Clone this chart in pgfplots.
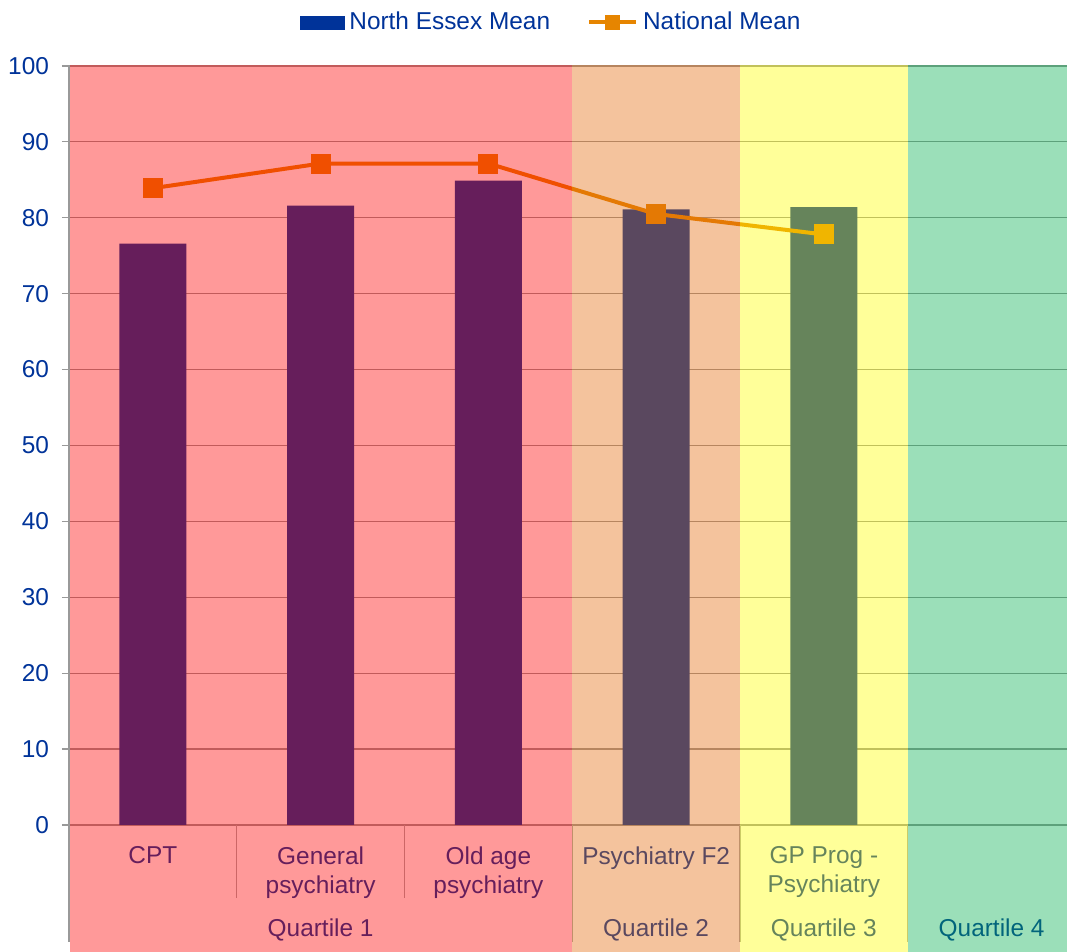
\documentclass[border=0pt]{standalone}
\usepackage{fontspec}
\setmainfont{Liberation Sans}
\usepackage{pgfplots}
\pgfplotsset{compat=1.18}
\definecolor{nblue}{HTML}{003399}
\definecolor{norange}{HTML}{E68500}
\definecolor{gridc}{HTML}{999999}
\definecolor{sepc}{HTML}{AAAAAA}
\definecolor{qa}{RGB}{255,0,0}
\definecolor{qb}{RGB}{227,105,10}
\definecolor{qc}{RGB}{255,255,0}
\definecolor{qd}{RGB}{5,175,80}
\newcommand{\lf}{\fontsize{12.2}{14.5}\selectfont}
\begin{document}
\begin{tikzpicture}
\useasboundingbox (-34.5pt,-63.5pt) rectangle (499pt,412.5pt);
\begin{axis}[
  at={(0,0)}, anchor=south west, scale only axis,
  width=499pt, height=379.5pt,
  xmin=-0.5, xmax=5.449, ymin=0, ymax=100,
  axis line style={draw=none},
  ytick={0,10,...,100}, ytick pos=left,
  xtick={0,1,2,3,4},
  xticklabels={CPT, General\\psychiatry, Old age\\psychiatry, Psychiatry F2, GP Prog -\\Psychiatry},
  xtick style={draw=none},
  xticklabel style={font=\lf, text=nblue, align=center, anchor=north, inner sep=0pt, yshift=-7.2pt},
  ymajorgrids, grid style={gridc, line width=0.6pt},
  ytick style={gridc, line width=0.6pt},
  tick align=outside, major tick length=3.5pt,
  yticklabel style={font=\lf, text=nblue, /pgf/number format/assume math mode=true, xshift=-3pt},
  legend style={at={(0.482,1.0573)}, anchor=center, draw=none, fill=none, font=\lf, text=nblue,
    nodes={inner sep=0pt},
    /tikz/every odd column/.append style={column sep=2.5pt},
    /tikz/every even column/.append style={column sep=18.5pt}},
  legend columns=2,
]
\addplot[ybar, bar width=0.4, fill=nblue, draw=none, forget plot]
  coordinates {(0,76.6) (1,81.6) (2,84.9) (3,81.1) (4,81.4)};
\addplot[norange, line width=2pt, mark=square*, mark size=4pt, mark options={solid}, forget plot]
  coordinates {(0,83.9) (1,87.15) (2,87.15) (3,80.5) (4,77.8)};
\addlegendimage{legend image code/.code={\fill[nblue] (0pt,-3.25pt) rectangle (22pt,3.25pt);}}
\addlegendentry{North Essex Mean}
\addlegendimage{legend image code/.code={\draw[norange, line width=2pt] (0pt,0pt) -- (23.5pt,0pt); \fill[norange] (8.25pt,-3.5pt) rectangle (15.25pt,3.5pt);}}
\addlegendentry{National Mean}
\end{axis}
% quartile labels
\begin{scope}[every node/.style={font=\lf, text=nblue, anchor=base, inner sep=0pt}]
\node at (125.81pt,-56pt) {Quartile 1};
\node at (293.56pt,-56pt) {Quartile 2};
\node at (377.44pt,-56pt) {Quartile 3};
\node at (461.31pt,-56pt) {Quartile 4};
\end{scope}
% separators
\begin{scope}[sepc, line width=0.6pt]
\draw (83.875pt,0pt) -- (83.875pt,-36.5pt);
\draw (167.75pt,0pt) -- (167.75pt,-36.5pt);
\draw (251.625pt,0pt) -- (251.625pt,-58.5pt);
\draw (335.5pt,0pt) -- (335.5pt,-58.5pt);
\draw (419.375pt,0pt) -- (419.375pt,-58.5pt);
\end{scope}
% translucent quartile bands
\fill[qa, fill opacity=0.4] (0.4pt,-63.5pt) rectangle (251.625pt,379.8pt);
\fill[qb, fill opacity=0.4] (251.625pt,-63.5pt) rectangle (335.5pt,379.8pt);
\fill[qc, fill opacity=0.4] (335.5pt,-63.5pt) rectangle (419.375pt,379.8pt);
\fill[qd, fill opacity=0.4] (419.375pt,-63.5pt) rectangle (499pt,380.2pt);
% left axis line
\draw[gridc, line width=0.8pt] (0pt,379.5pt) -- (0pt,-58.5pt);
\end{tikzpicture}
\end{document}
